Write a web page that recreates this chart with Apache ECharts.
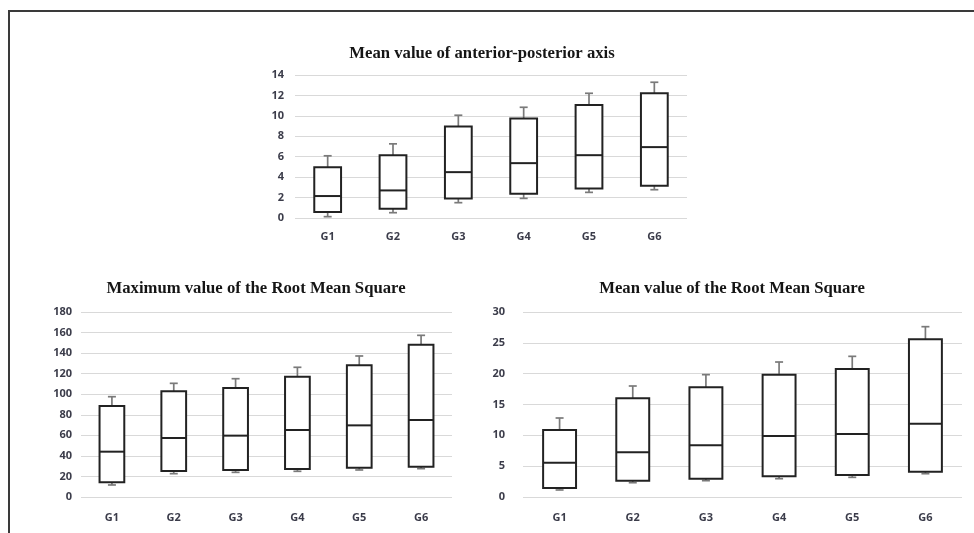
<!DOCTYPE html>
<html lang="en">
<head>
    <title>Box plots G1-G6</title>
    <script src="https://cdn.jsdelivr.net/npm/echarts@6/dist/echarts.min.js"></script>
    <style>
        html, body {
            margin: 0;
            padding: 0;
            background: #fff;
        }
        #frame {
            position: absolute;
            left: 8px;
            top: 10px;
            width: 966px;
            height: 523px;
            border-top: 2px solid #3a3a3a;
            border-left: 2px solid #3a3a3a;
        }
        #main {
            position: absolute;
            left: 0;
            top: 0;
            width: 974px;
            height: 533px;
        }
    </style>
</head>
<body>
<div id="frame"></div>
<div id="main"></div>

<script>
    var groups = ['G1', 'G2', 'G3', 'G4', 'G5', 'G6'];

    // Mean value of anterior-posterior axis
    var apMin = [0.13, 0.52, 1.50, 1.92, 2.51, 2.77];
    var apQ1  = [0.59, 0.91, 1.92, 2.38, 2.90, 3.16];
    var apMed = [2.15, 2.70, 4.49, 5.37, 6.15, 6.94];
    var apQ3  = [4.98, 6.15, 8.95, 9.74, 11.07, 12.21];
    var apMax = [6.09, 7.26, 10.06, 10.84, 12.21, 13.29];

    // Maximum value of the Root Mean Square
    var rmsMaxMin = [11.7, 22.7, 24.0, 25.0, 26.3, 27.6];
    var rmsMaxQ1  = [14.3, 25.3, 26.3, 27.2, 28.5, 29.5];
    var rmsMaxMed = [44.1, 57.4, 59.7, 65.2, 69.7, 74.9];
    var rmsMaxQ3  = [88.5, 102.8, 106.1, 117.1, 128.1, 148.2];
    var rmsMaxMax = [97.6, 110.6, 115.1, 126.2, 137.2, 157.3];

    // Mean value of the Root Mean Square
    var rmsMeanMin = [1.14, 2.32, 2.65, 2.97, 3.19, 3.78];
    var rmsMeanQ1  = [1.46, 2.65, 2.97, 3.35, 3.57, 4.11];
    var rmsMeanMed = [5.57, 7.24, 8.38, 9.89, 10.22, 11.89];
    var rmsMeanQ3  = [10.86, 16.0, 17.78, 19.84, 20.76, 25.57];
    var rmsMeanMax = [12.81, 18.0, 19.84, 21.89, 22.81, 27.62];

    var titles = [
        'Mean value of anterior-posterior axis',
        'Maximum value of the Root Mean Square',
        'Mean value of the Root Mean Square'
    ];

    function rows(mn, q1, md, q3, mx) {
        var out = [];
        for (var i = 0; i < mn.length; i++) {
            out.push([i, mn[i], q1[i], md[i], q3[i], mx[i]]);
        }
        return out;
    }

    // draws one box: whisker up to max with a small cap, short cap at min
    function boxRenderer(ratio) {
        return function (params, api) {
            var x = api.value(0);
            var lo = api.coord([x, api.value(1)]);
            var q1 = api.coord([x, api.value(2)]);
            var md = api.coord([x, api.value(3)]);
            var q3 = api.coord([x, api.value(4)]);
            var hi = api.coord([x, api.value(5)]);
            var bw = api.size([1, 0])[0] * ratio;
            var cx = q1[0];
            var cap = 4;
            var whisker = {stroke: '#7a7a7a', lineWidth: 1.7};
            var dark = {stroke: '#222', lineWidth: 2, fill: 'none'};
            return {
                type: 'group',
                children: [
                    {type: 'line', shape: {x1: cx, y1: q3[1], x2: cx, y2: hi[1]}, style: whisker},
                    {type: 'line', shape: {x1: cx - cap, y1: hi[1], x2: cx + cap, y2: hi[1]}, style: whisker},
                    {type: 'line', shape: {x1: cx, y1: q1[1], x2: cx, y2: lo[1]}, style: whisker},
                    {type: 'line', shape: {x1: cx - cap, y1: lo[1], x2: cx + cap, y2: lo[1]}, style: whisker},
                    {type: 'rect', shape: {x: cx - bw / 2, y: q3[1], width: bw, height: q1[1] - q3[1]},
                        style: {stroke: '#222', lineWidth: 2, fill: '#fff'}},
                    {type: 'line', shape: {x1: cx - bw / 2, y1: md[1], x2: cx + bw / 2, y2: md[1]}, style: dark}
                ]
            };
        };
    }

    var titleStyle = {
        fontFamily: 'Liberation Serif',
        fontWeight: 'bold',
        fontSize: 16.7,
        color: '#151515'
    };
    var labelStyle = {
        fontFamily: 'Open Sans',
        fontWeight: 'bold',
        fontSize: 11,
        color: '#3b3c4a'
    };

    function xAxisFor(idx, margin) {
        return {
            type: 'category',
            gridIndex: idx,
            data: groups,
            axisLine: {show: false},
            axisTick: {show: false},
            axisLabel: Object.assign({margin: margin}, labelStyle)
        };
    }

    function yAxisFor(idx, max, interval, margin) {
        return {
            type: 'value',
            gridIndex: idx,
            min: 0,
            max: max,
            interval: interval,
            axisLine: {show: false},
            axisTick: {show: false},
            axisLabel: Object.assign({margin: margin}, labelStyle),
            splitLine: {lineStyle: {color: '#d9d9d9', width: 1.2}}
        };
    }

    var myChart = echarts.init(document.getElementById('main'), null, {renderer: 'canvas'});

    var option = {
        backgroundColor: 'transparent',
        animation: false,
        title: [
            {text: titles[0], left: 482, top: 40, textAlign: 'center', padding: 0, textStyle: titleStyle},
            {text: titles[1], left: 256, top: 275, textAlign: 'center', padding: 0, textStyle: titleStyle},
            {text: titles[2], left: 732, top: 275, textAlign: 'center', padding: 0, textStyle: titleStyle}
        ],
        grid: [
            {left: 295, right: 287, top: 75, bottom: 315},
            {left: 81, right: 522, top: 312, bottom: 36},
            {left: 523, right: 12, top: 312, bottom: 36}
        ],
        xAxis: [
            xAxisFor(0, 9),
            xAxisFor(1, 11),
            xAxisFor(2, 11)
        ],
        yAxis: [
            yAxisFor(0, 14, 2, 11),
            yAxisFor(1, 180, 20, 9),
            yAxisFor(2, 30, 5, 18)
        ],
        series: [
            {
                type: 'custom',
                xAxisIndex: 0,
                yAxisIndex: 0,
                renderItem: boxRenderer(0.41),
                data: rows(apMin, apQ1, apMed, apQ3, apMax)
            },
            {
                type: 'custom',
                xAxisIndex: 1,
                yAxisIndex: 1,
                renderItem: boxRenderer(0.40),
                data: rows(rmsMaxMin, rmsMaxQ1, rmsMaxMed, rmsMaxQ3, rmsMaxMax)
            },
            {
                type: 'custom',
                xAxisIndex: 2,
                yAxisIndex: 2,
                renderItem: boxRenderer(0.45),
                data: rows(rmsMeanMin, rmsMeanQ1, rmsMeanMed, rmsMeanQ3, rmsMeanMax)
            }
        ]
    };

    myChart.setOption(option);
</script>
</body>
</html>
